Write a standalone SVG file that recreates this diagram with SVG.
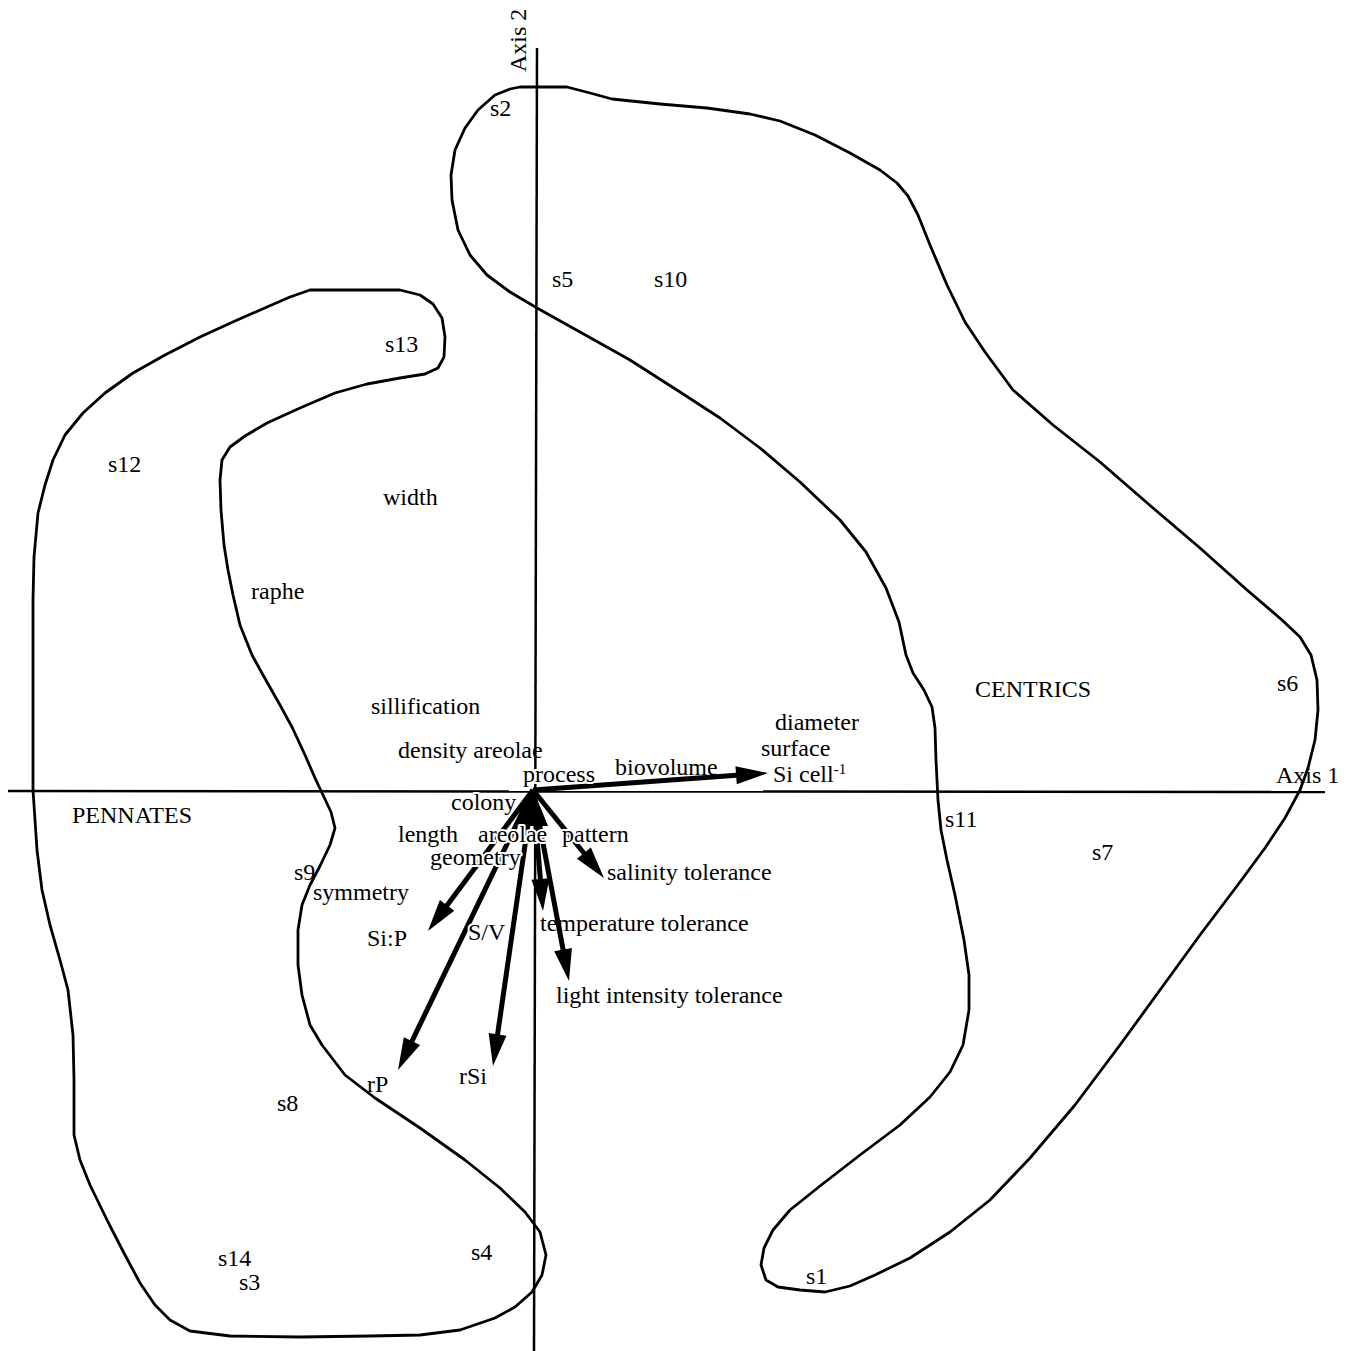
<svg xmlns="http://www.w3.org/2000/svg" width="1348" height="1351" viewBox="0 0 1348 1351">
<style>
  .hull { fill: none; stroke: #000; stroke-width: 2.8; stroke-linejoin: round; stroke-linecap: round; }
  .axis { stroke: #000; stroke-width: 2.5; fill: none; }
  .arr { stroke: #000; stroke-width: 5; fill: none; marker-end: url(#ah); }
  text { font-family: "Liberation Serif", "Times New Roman", serif; font-size: 24px; fill: #000; }
  .k { stroke: #fff; stroke-width: 4; paint-order: stroke; stroke-linejoin: round; }
</style>
<defs>
  <marker id="ah" markerUnits="userSpaceOnUse" markerWidth="34" markerHeight="18" refX="4" refY="9" orient="auto" overflow="visible">
    <path d="M0,0 L32,9 L0,18 Z" fill="#000"/>
  </marker>
</defs>
<rect width="1348" height="1351" fill="#fff"/>

<g id="centrics-hull">
  <path class="hull" d="M520,87 L567,87 L590,93 L612,99 L660,104 L707,108 L750,114 L780,121 L815,135 L850,153 L880,170 L897,183 L908,196 L918,215 L930,245 L947,285 L965,322 L985,352 L1013,390 L1053,425 L1100,462 L1153,508 L1200,548 L1247,590 L1282,620 L1300,637 L1311,655 L1317,680 L1318,710 L1315,740 L1308,768 L1300,790 L1285,818 L1265,848 L1240,882 L1200,935 L1160,990 L1120,1045 L1075,1105 L1030,1158 L990,1200 L950,1232 L910,1258 L875,1275 L850,1286 L825,1292 L800,1290 L778,1287 L766,1280 L761,1265 L764,1248 L773,1230 L790,1210 L820,1186 L860,1155 L900,1125 L930,1097 L950,1072 L963,1045 L969,1010 L969,975 L964,940 L955,895 L947,860 L941,830 L938,800 L936,760 L935,728 L932,707 L924,690 L913,673 L906,655 L899,622 L886,588 L866,552 L840,520 L800,482 L760,448 L720,418 L680,392 L630,360 L580,332 L537,308 L510,292 L487,275 L470,255 L458,230 L452,200 L451,175 L455,150 L465,128 L478,110 L495,95 L510,89 Z"/>
</g>

<g id="pennates-hull">
  <path class="hull" d="M310,290 L400,290 L420,295 L433,304 L442,318 L445,337 L444,357 L438,368 L425,374 L400,378 L367,384 L335,393 L300,408 L267,423 L245,436 L230,447 L222,460 L220,480 L221,510 L224,545 L228,570 L233,595 L240,625 L252,655 L263,675 L280,705 L292,727 L305,755 L315,778 L323,795 L331,812 L335,828 L330,845 L320,866 L310,885 L302,905 L298,930 L298,965 L302,995 L310,1025 L322,1045 L345,1075 L375,1098 L420,1128 L465,1160 L500,1188 L525,1212 L540,1232 L546,1255 L542,1275 L532,1292 L515,1307 L495,1318 L460,1330 L420,1335 L370,1336 L300,1337 L230,1336 L190,1331 L170,1320 L155,1305 L140,1283 L125,1255 L108,1222 L90,1185 L80,1160 L74,1135 L74,1080 L73,1035 L68,990 L60,960 L50,925 L42,890 L37,850 L33,790 L33,700 L33,600 L34,557 L38,513 L45,485 L53,460 L65,435 L83,413 L105,393 L133,373 L165,355 L200,337 L235,321 L267,307 L290,297 Z"/>
</g>

<g id="axes">
  <line class="axis" x1="537" y1="48" x2="534" y2="1351"/>
  <line class="axis" x1="8" y1="791" x2="1325" y2="792"/>
</g>

<g id="connectors">
  <path d="M533,789 L518,826 L548,826 Z" fill="#000"/>
  <line class="arr" x1="533" y1="790" x2="740.1" y2="775"/>
  <line class="arr" x1="533" y1="790" x2="444.7" y2="908.5"/>
  <line class="arr" x1="533" y1="790" x2="410.2" y2="1044.8"/>
  <line class="arr" x1="533" y1="790" x2="497" y2="1038.3"/>
  <line class="arr" x1="533" y1="790" x2="540.7" y2="883.1"/>
  <line class="arr" x1="533" y1="790" x2="563.8" y2="953.5"/>
  <line class="arr" x1="533" y1="790" x2="586.4" y2="856.2"/>
</g>

<g id="axis-labels">
  <text x="0" y="0" transform="translate(526,72) rotate(-90)">Axis 2</text>
  <text x="1276" y="783">Axis 1</text>
</g>

<g id="group-labels">
  <text x="975" y="697">CENTRICS</text>
  <text x="72" y="823">PENNATES</text>
</g>

<g id="sites">
  <g id="s1"><text x="806" y="1284">s1</text></g>
  <g id="s2"><text x="490" y="116">s2</text></g>
  <g id="s3"><text x="239" y="1290">s3</text></g>
  <g id="s4"><text x="471" y="1260">s4</text></g>
  <g id="s5"><text x="552" y="287">s5</text></g>
  <g id="s6"><text x="1277" y="691">s6</text></g>
  <g id="s7"><text x="1092" y="860">s7</text></g>
  <g id="s8"><text x="277" y="1111">s8</text></g>
  <g id="s9"><text x="294" y="880">s9</text></g>
  <g id="s10"><text x="654" y="287">s10</text></g>
  <g id="s11"><text x="945" y="827">s11</text></g>
  <g id="s12"><text x="108" y="472">s12</text></g>
  <g id="s13"><text x="385" y="352">s13</text></g>
  <g id="s14"><text x="218" y="1266">s14</text></g>
</g>

<g id="traits">
  <g id="t-width"><text x="383" y="505">width</text></g>
  <g id="t-raphe"><text x="251" y="599">raphe</text></g>
  <g id="t-sillification"><text x="371" y="714">sillification</text></g>
  <g id="t-density"><text x="398" y="758">density areolae</text></g>
  <g id="t-process"><text class="k" x="523" y="782">process</text></g>
  <g id="t-biovolume"><text x="615" y="775">biovolume</text></g>
  <g id="t-diameter"><text x="775" y="730">diameter</text></g>
  <g id="t-surface"><text x="761" y="756">surface</text></g>
  <g id="t-sicell"><text x="773" y="782">Si cell<tspan font-size="15" dy="-8">-1</tspan></text></g>
  <g id="t-colony"><text class="k" x="451" y="810">colony</text></g>
  <g id="t-length"><text class="k" x="398" y="842">length</text></g>
  <g id="t-areolae"><text class="k" x="478" y="842">areolae</text></g>
  <g id="t-pattern"><text class="k" x="562" y="842">pattern</text></g>
  <g id="t-geometry"><text class="k" x="430" y="865">geometry</text></g>
  <g id="t-symmetry"><text x="313" y="900">symmetry</text></g>
  <g id="t-salinity"><text x="607" y="880">salinity tolerance</text></g>
  <g id="t-sip"><text x="367" y="946">Si:P</text></g>
  <g id="t-sv"><text class="k" x="468" y="940">S/V</text></g>
  <g id="t-temperature"><text x="540" y="931">temperature tolerance</text></g>
  <g id="t-light"><text x="556" y="1003">light intensity tolerance</text></g>
  <g id="t-rp"><text x="367" y="1092">rP</text></g>
  <g id="t-rsi"><text x="459" y="1084">rSi</text></g>
</g>
</svg>
